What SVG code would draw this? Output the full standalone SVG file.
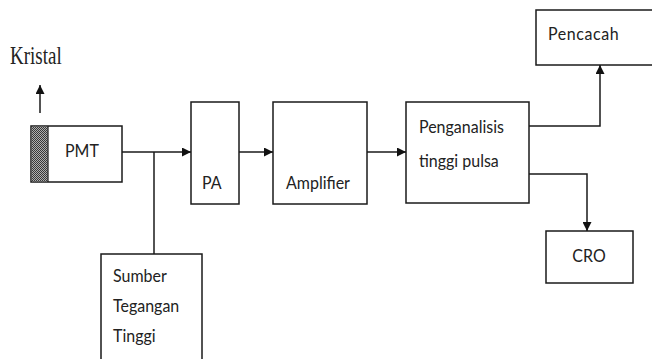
<svg xmlns="http://www.w3.org/2000/svg" width="652" height="359" viewBox="0 0 652 359">
  <style>
    .box { fill: #ffffff; stroke: #1a1a1a; stroke-width: 1.5; }
    .wire { fill: none; stroke: #1a1a1a; stroke-width: 1.5; }
    .lbl { font-family: Lato, "Open Sans", "Liberation Sans", sans-serif; font-size: 16px; fill: #222222; }
    .serif { font-family: "Liberation Serif", "Times New Roman", serif; font-size: 19px; fill: #222222; }
  </style>
  <defs>
    <marker id="arrow" viewBox="0 0 10 10" refX="10" refY="5" markerWidth="9" markerHeight="9" markerUnits="userSpaceOnUse" orient="auto">
      <path d="M0,0 L10,5 L0,10 z" fill="#111111"/>
    </marker>
    <pattern id="grain" width="2" height="2" patternUnits="userSpaceOnUse">
      <rect width="2" height="2" fill="#b0b0b0"/>
      <rect x="0" y="0" width="1" height="1" fill="#383838"/>
      <rect x="1" y="1" width="1" height="1" fill="#383838"/>
    </pattern>
  </defs>

  <rect width="652" height="359" fill="#ffffff"/>

  <g id="kristal">
    <text class="serif" transform="translate(10,64) scale(1,1.3)">Kristal</text>
  </g>

  <g id="pmt">
    <rect class="box" x="31" y="126" width="91" height="56"/>
    <rect x="31.75" y="126.75" width="16" height="54.5" fill="url(#grain)"/>
    <line x1="48" y1="126" x2="48" y2="182" stroke="#1a1a1a" stroke-width="1.2"/>
    <text class="lbl" transform="translate(65,157) scale(1,1.1)">PMT</text>
  </g>

  <g id="pa">
    <rect class="box" x="191" y="102" width="48" height="102"/>
    <text class="lbl" transform="translate(202,189) scale(1,1.1)">PA</text>
  </g>

  <g id="amplifier">
    <rect class="box" x="273" y="102" width="94" height="102"/>
    <text class="lbl" transform="translate(286,189) scale(1,1.1)">Amplifier</text>
  </g>

  <g id="penganalisis">
    <rect class="box" x="406" y="102" width="123" height="101"/>
    <text class="lbl" transform="translate(419,133) scale(1,1.1)">Penganalisis</text>
    <text class="lbl" transform="translate(419,167) scale(1,1.1)">tinggi pulsa</text>
  </g>

  <g id="pencacah">
    <rect class="box" x="536" y="10" width="130" height="55"/>
    <text class="lbl" transform="translate(548,40) scale(1,1.1)" letter-spacing="0.6">Pencacah</text>
  </g>

  <g id="cro">
    <rect class="box" x="546" y="231" width="87" height="52"/>
    <text class="lbl" transform="translate(589,262) scale(1,1.1)" text-anchor="middle">CRO</text>
  </g>

  <g id="sumber">
    <rect class="box" x="101" y="254" width="101" height="120"/>
    <text class="lbl" transform="translate(113,282) scale(1,1.1)">Sumber</text>
    <text class="lbl" transform="translate(113,312) scale(1,1.1)">Tegangan</text>
    <text class="lbl" transform="translate(113,342) scale(1,1.1)">Tinggi</text>
  </g>

  <g id="connectors">
    <line class="wire" x1="40" y1="113" x2="40" y2="85" marker-end="url(#arrow)"/>
    <line class="wire" x1="122" y1="152" x2="191" y2="152" marker-end="url(#arrow)"/>
    <line class="wire" x1="154" y1="152" x2="154" y2="254"/>
    <line class="wire" x1="239" y1="152" x2="273" y2="152" marker-end="url(#arrow)"/>
    <line class="wire" x1="367" y1="152" x2="406" y2="152" marker-end="url(#arrow)"/>
    <polyline class="wire" points="529,126 600,126 600,65" marker-end="url(#arrow)"/>
    <polyline class="wire" points="529,174 587,174 587,231" marker-end="url(#arrow)"/>
  </g>
</svg>
